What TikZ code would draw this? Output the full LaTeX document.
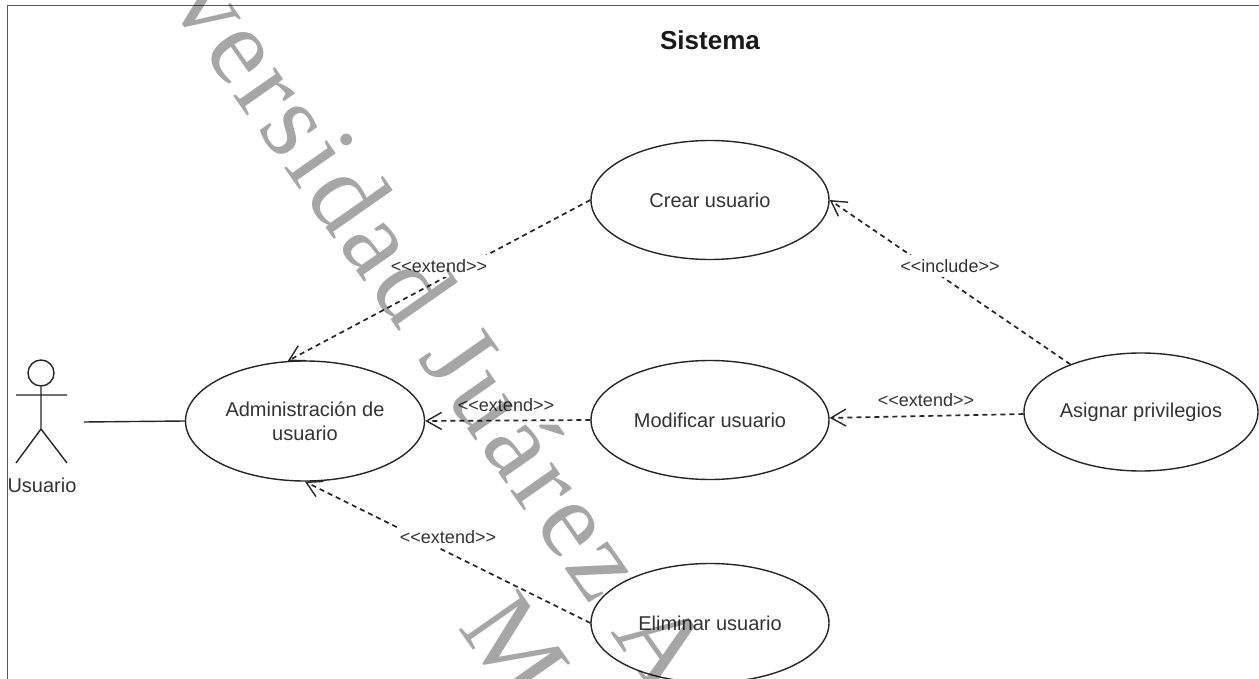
\documentclass[tikz,border=0pt]{standalone}
\usepackage{fontspec}
\setmainfont{Liberation Sans}
\newfontfamily\wmfont[LetterSpace=4]{Liberation Serif}
\usetikzlibrary{arrows.meta,shapes.geometric}
\tikzset{
  x=1pt,y=-1pt,
  usecase/.style={ellipse,draw=black!85,line width=1.4pt,minimum width=238pt,minimum height=119pt,inner sep=0pt,align=center,font=\fontsize{20}{24}\selectfont,text=black!80},
  rel/.style={draw=black!85,line width=1.7pt,dash pattern=on 5pt off 4pt,-{Straight Barb[length=15pt,width=17pt,line width=1.4pt]}},
  rellabel/.style={font=\fontsize{18}{20}\selectfont,text=black!80,fill=white,inner sep=1pt,minimum height=22pt},
  actorline/.style={draw=black!85,line width=1.4pt},
  watermark/.style={text=black!35,font=\wmfont\fontsize{110}{110}\selectfont,rotate=-55,anchor=base west,inner sep=0pt}
}
\begin{document}
\begin{tikzpicture}
\useasboundingbox (0,0) rectangle (1259,679);
\clip (0,0) rectangle (1259,679);
\fill[white] (0,0) rectangle (1259,679);
\node[draw=black!65,line width=1.5pt,minimum width=1300pt,minimum height=800pt,anchor=north west,inner sep=0pt] (frame) at (6.5,5) {};
\node[font=\bfseries\fontsize{26}{28}\selectfont,text=black!90] (title) at (710,40) {Sistema};
% actor
\node[circle,actorline,minimum size=26pt,inner sep=0pt] (head) at (41,373) {};
\coordinate (armL) at (16,395);
\coordinate (armR) at (67,395);
\coordinate (hip) at (41,429);
\coordinate (legL) at (16,463);
\coordinate (legR) at (67,463);
\coordinate (actorhand) at (84,422);
\draw[actorline] (head.south) -- (hip) (armL) -- (armR) (legL) -- (hip) -- (legR);
\node[font=\fontsize{20}{24}\selectfont,text=black!80] (usuario) at (42,485) {Usuario};
% use cases
\node[usecase,minimum width=239pt,minimum height=120pt] (admin) at (305,421) {Administración de\\usuario};
\node[usecase] (crear) at (710,200) {Crear usuario};
\node[usecase] (modif) at (710,420) {Modificar usuario};
\node[usecase] (elim) at (710,623) {Eliminar usuario};
\node[usecase,minimum width=234pt,minimum height=118pt] (asig) at (1141,412) {Asignar privilegios};
% connectors
\draw[actorline] (actorhand) -- (admin.west);
\draw[rel] (crear.west) -- (admin.106);
\draw[rel] (modif.west) -- (admin.east);
\draw[rel] (elim.west) -- (admin.south);
\draw[rel] (asig.146) -- (crear.east);
\draw[rel] (asig.181) -- (modif.1);
% labels
\node[rellabel] (l1) at (439,266) {<{}<extend>{}>};
\node[rellabel,fill=none] (l2) at (506,405) {<{}<extend>{}>};
\node[rellabel] (l3) at (448,537) {<{}<extend>{}>};
\node[rellabel] (l4) at (950,266) {<{}<include>{}>};
\node[rellabel,fill=none] (l5) at (926,400) {<{}<extend>{}>};
% watermark
\begin{scope}[blend mode=multiply]
\node[watermark] (wm1) at (66,-144) {Universidad Juárez A};
\node[watermark] (wm2) at (457,627) {Mé};
\end{scope}
\end{tikzpicture}
\end{document}
